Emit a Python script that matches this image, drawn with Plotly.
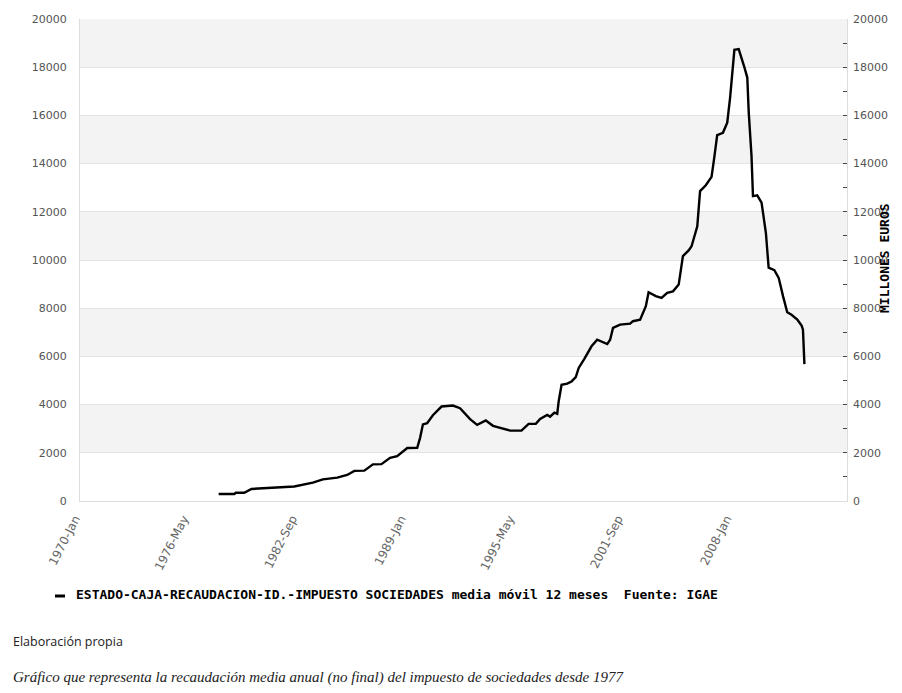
import plotly.graph_objects as go

# ---- data ----
dates = [
    "1978-02", "1979-01", "1979-02", "1979-08", "1980-01", "1981-09", "1982-07", "1983-08",
    "1984-03", "1985-01", "1985-08", "1986-01", "1986-08", "1987-02", "1987-08", "1988-02",
    "1988-07", "1989-02", "1989-09", "1989-11", "1990-01", "1990-04", "1990-08", "1991-02",
    "1991-10", "1992-03", "1992-10", "1993-03", "1993-06", "1993-09", "1994-02", "1994-08",
    "1995-02", "1995-10", "1996-03", "1996-08", "1996-11", "1997-04", "1997-06", "1997-09",
    "1997-11", "1997-12", "1998-02", "1998-06", "1998-09", "1998-12", "1999-02", "1999-06",
    "1999-11", "2000-03", "2000-10", "2000-12", "2001-02", "2001-07", "2002-02", "2002-04",
    "2002-09", "2003-01", "2003-03", "2003-08", "2003-12", "2004-04", "2004-08", "2004-12",
    "2005-03", "2005-07", "2005-09", "2006-01", "2006-03", "2006-07", "2006-11", "2007-01",
    "2007-03", "2007-07", "2007-10", "2007-12", "2008-02", "2008-03", "2008-06", "2008-08",
    "2008-10", "2008-12", "2009-01", "2009-03", "2009-04", "2009-07", "2009-10", "2010-01",
    "2010-03", "2010-07", "2010-10", "2011-01", "2011-04", "2011-07", "2011-11", "2012-02",
    "2012-03", "2012-04",
]
values = [
    290, 290, 340, 340, 500, 570, 600, 760,
    900, 970, 1080, 1250, 1260, 1520, 1530, 1790,
    1860, 2200, 2210, 2620, 3180, 3230, 3560, 3920,
    3960, 3850, 3400, 3160, 3260, 3340, 3120, 3030,
    2920, 2920, 3200, 3200, 3400, 3570, 3500, 3670,
    3620, 4130, 4820, 4870, 4960, 5140, 5520, 5900,
    6420, 6690, 6510, 6690, 7180, 7320, 7360, 7460,
    7520, 8080, 8660, 8500, 8430, 8640, 8700, 8980,
    10160, 10400, 10570, 11400, 12860, 13100, 13450, 14300,
    15180, 15280, 15700, 16740, 17920, 18720, 18750, 18400,
    17990, 17570, 16120, 14320, 12650, 12680, 12380, 11130,
    9680, 9580, 9260, 8500, 7830, 7730, 7530, 7280,
    7110, 5680,
]
x_tick_dates = ["1970-01-01", "1976-05-01", "1982-09-01", "1989-01-01",
                "1995-05-01", "2001-09-01", "2008-01-01"]
x_tick_labels = ["1970-Jan", "1976-May", "1982-Sep", "1989-Jan",
                 "1995-May", "2001-Sep", "2008-Jan"]
y_ticks = [0, 2000, 4000, 6000, 8000, 10000, 12000, 14000, 16000, 18000, 20000]
y_tick_labels = [str(v) for v in y_ticks]

series_name = "ESTADO-CAJA-RECAUDACION-ID.-IMPUESTO SOCIEDADES media móvil 12 meses  Fuente: IGAE"
axis_title = "MILLONES EUROS"
note1 = "Elaboración propia"
note2 = "Gráfico que representa la recaudación media anual (no final) del impuesto de sociedades desde 1977"

# ---- figure ----
fig = go.Figure()
fig.add_trace(go.Scatter(x=dates, y=values, mode="lines", name=series_name,
                         line=dict(color="black", width=2.4), showlegend=False))
# invisible copy so the right-hand axis is drawn
fig.add_trace(go.Scatter(x=dates, y=values, mode="lines", yaxis="y2",
                         line=dict(color="rgba(0,0,0,0)", width=0),
                         hoverinfo="skip", showlegend=False))

# alternating grey bands
for i in range(1, len(y_ticks) - 1, 2):
    fig.add_shape(type="rect", xref="paper", yref="y", x0=0, x1=1,
                  y0=y_ticks[i], y1=y_ticks[i + 1],
                  fillcolor="#f3f3f3", line_width=0, layer="below")

tick_font = dict(family="DejaVu Sans", size=11, color="#555555")
xtick_font = dict(family="DejaVu Sans", size=12, color="#666666")
mono = "DejaVu Sans Mono"

fig.update_layout(
    width=902, height=693,
    margin=dict(l=80, r=55, t=19, b=192),
    paper_bgcolor="white", plot_bgcolor="white",
    xaxis=dict(type="date", range=["1970-01-01", "2014-09-25"],
               tickmode="array", tickvals=x_tick_dates, ticktext=x_tick_labels,
               tickangle=-63, tickfont=xtick_font, showgrid=False,
               showline=True, linecolor="#dddddd", linewidth=1,
               ticks="", zeroline=False, ticklabelstandoff=5, ticklabelshift=-5),
    yaxis=dict(range=[0, 20000], tickmode="array", tickvals=y_ticks, ticktext=y_tick_labels,
               tickfont=tick_font, showgrid=True, gridcolor="#e3e3e3", gridwidth=1,
               showline=True, linecolor="#dddddd", linewidth=1, mirror=True,
               zeroline=False, ticks="", ticklabelstandoff=10),
    yaxis2=dict(range=[0, 20000], overlaying="y", side="right",
                tickmode="array", tickvals=y_ticks, ticktext=y_tick_labels, tickfont=tick_font,
                showgrid=False, zeroline=False, showline=False,
                ticks="inside", ticklen=4, tickcolor="#444444",
                minor=dict(ticks="inside", dtick=1000, ticklen=4, tickcolor="#444444"),
                ticklabelstandoff=5),
    showlegend=False,
)

# legend (drawn manually)
fig.add_shape(type="line", xref="paper", yref="paper",
              x0=(55 - 80) / 767, x1=(65 - 80) / 767,
              y0=(501 - 596) / 482, y1=(501 - 596) / 482,
              line=dict(color="black", width=3))
fig.add_annotation(text="<b>" + series_name + "</b>", xref="paper", yref="paper",
                   x=(74 - 80) / 767, y=(501 - 594) / 482, xanchor="left", yanchor="middle",
                   showarrow=False, font=dict(family=mono, size=13, color="black"))
# right axis title
fig.add_annotation(text="<b>" + axis_title + "</b>", xref="paper", yref="paper",
                   x=(884 - 80) / 767, y=(501 - 258) / 482, xanchor="center", yanchor="middle",
                   textangle=-90, showarrow=False,
                   font=dict(family=mono, size=13, color="black"))
# notes below
fig.add_annotation(text=note1, xref="paper", yref="paper",
                   x=(11 - 80) / 767, y=(501 - 641) / 482, xanchor="left", yanchor="middle",
                   showarrow=False, font=dict(family="Open Sans", size=12.5, color="#222222"))
fig.add_annotation(text="<i>" + note2 + "</i>", xref="paper", yref="paper",
                   x=(11 - 80) / 767, y=(501 - 677) / 482, xanchor="left", yanchor="middle",
                   showarrow=False, font=dict(family="Liberation Serif", size=15, color="#222222"))

fig.write_html("out.html", config={"displayModeBar": False},
               post_script="document.body.style.margin='0';")
